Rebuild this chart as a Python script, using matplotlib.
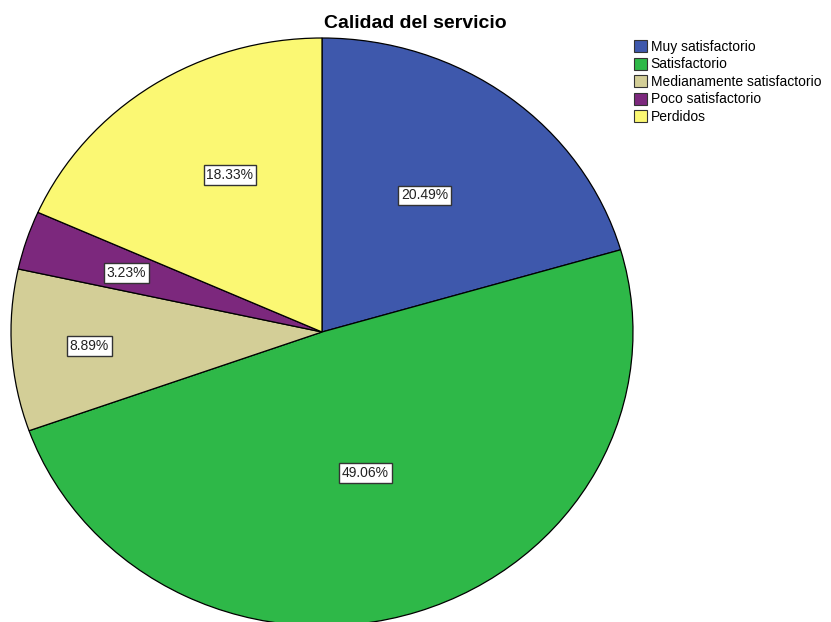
import numpy as np
import matplotlib
matplotlib.use('Agg')
import matplotlib.pyplot as plt
from matplotlib.patches import Patch

plt.rcParams['font.family'] = ['Liberation Sans', 'DejaVu Sans']

categories = ['Muy satisfactorio', 'Satisfactorio', 'Medianamente satisfactorio',
              'Poco satisfactorio', 'Perdidos']
percents = [20.49, 49.06, 8.89, 3.23, 18.33]
colors = ['#3E58AC', '#2EB848', '#D3CE97', '#7C287D', '#FBF873']
# where each percentage label sits: radial fraction and fraction along the wedge
label_dist = [0.57, 0.50, 0.75, 0.66, 0.61]
label_frac = [0.48, 0.51, 0.50, 0.46, 0.56]

W, H = 831, 622
fig = plt.figure(figsize=(W / 100, H / 100), dpi=100)

# pie is slightly wider than tall, so place the axes in pixels and keep aspect auto
cx, cy, rx, ry = 322, 332, 311, 294
ax = fig.add_axes([(cx - rx) / W, (H - cy - ry) / H, 2 * rx / W, 2 * ry / H])

wedges, _ = ax.pie(percents, colors=colors, startangle=90, counterclock=False,
                   wedgeprops=dict(edgecolor='black', linewidth=0.9))
ax.set_aspect('auto')
ax.set_xlim(-1, 1)
ax.set_ylim(-1, 1)
ax.axis('off')

for w, p, d, f in zip(wedges, percents, label_dist, label_frac):
    # wedges run clockwise, so theta2 is the starting edge
    ang = np.deg2rad(w.theta2 + f * (w.theta1 - w.theta2))
    ax.text(d * np.cos(ang), d * np.sin(ang), '%.2f%%' % p,
            ha='center', va='center', fontsize=10, color='#222222',
            bbox=dict(boxstyle='square,pad=0.2', facecolor='white',
                      edgecolor='#333333', linewidth=1))

fig.text(0.5, 1 - 24 / H, 'Calidad del servicio', ha='center', va='center',
         fontsize=14, fontweight='bold')

handles = [Patch(facecolor=c, edgecolor='#333333', linewidth=0.8) for c in colors]
fig.legend(handles, categories, loc='upper left',
           bbox_to_anchor=(634 / W, 1 - 40 / H), frameon=False, fontsize=10,
           handlelength=0.95, handleheight=0.95, handletextpad=0.25,
           labelspacing=0.25, borderpad=0, borderaxespad=0)

fig.savefig('out.png', dpi=100)
